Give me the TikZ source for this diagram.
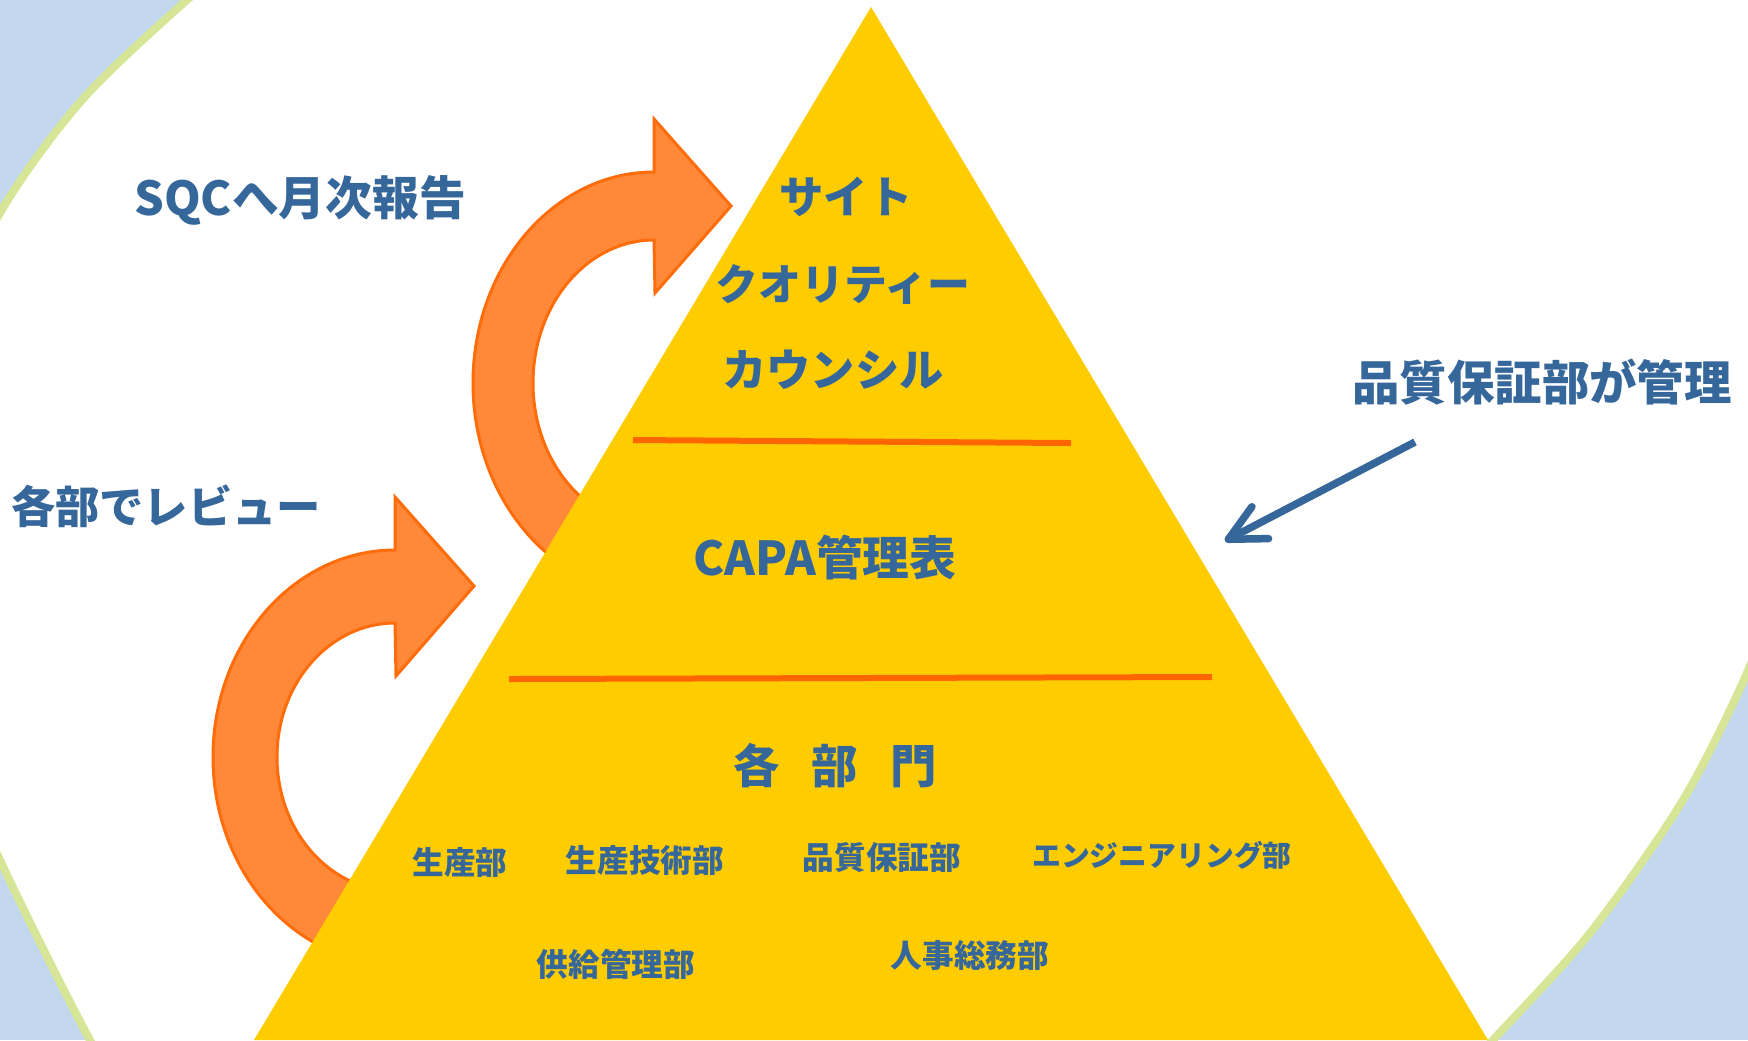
\documentclass[tikz,border=0pt]{standalone}
\usepackage{fontspec}
\newfontfamily\jp{Noto Sans CJK JP}
\usetikzlibrary{arrows.meta}
\definecolor{bgblue}{RGB}{195,215,238}
\definecolor{ring}{RGB}{214,230,150}
\definecolor{tri}{RGB}{255,204,0}
\definecolor{divline}{RGB}{255,102,0}
\definecolor{arrfill}{RGB}{255,137,56}
\definecolor{arrline}{RGB}{255,108,10}
\definecolor{txtblue}{RGB}{54,103,155}
\tikzset{
  lbl/.style={text=txtblue, inner sep=0pt, font=\jp\bfseries\fontsize{12.6}{15}\selectfont},
  dept/.style={text=txtblue, inner sep=0pt, font=\jp\bfseries\fontsize{9}{11}\selectfont},
  curvarrow/.style={fill=arrfill, draw=arrline, line width=0.3mm, line join=miter},
  divider/.style={draw=divline, line width=0.6mm},
  ringline/.style={draw=ring, line width=0.8mm},
  qaarrow/.style={draw=txtblue, line width=0.75mm, -{Straight Barb[length=3.6mm,width=3.6mm,round]}}
}
\begin{document}
\begin{tikzpicture}[x=0.1mm,y=-0.1mm]
\useasboundingbox (0,0) rectangle (1748,1040);
% background
\begin{scope}
  \clip (0,0) rectangle (1748,1040);
  \fill[bgblue] (0,0) rectangle (1748,1040);
  \fill[white] plot[smooth] coordinates {(241,-40) (187,0) (82,100) (0,213) (-61,350) (-88,536) (-62,710) (0,860) (90,1040) (120,1075)}
     -- plot[smooth] coordinates {(1460,1075) (1493,1040) (1590,933) (1683,800) (1747,673) (1785,570)}
     -- (1800,-40) -- cycle;
  \draw[ringline] plot[smooth] coordinates {(241,-40) (187,0) (82,100) (0,213) (-61,350) (-88,536) (-62,710) (0,860) (90,1040) (120,1075)};
  \draw[ringline] plot[smooth] coordinates {(1460,1075) (1493,1040) (1590,933) (1683,800) (1747,673) (1785,570)};
\end{scope}
% curved arrows
\path[curvarrow] (654,172) -- (654,119) -- (731,206) -- (655,293) -- (654,240)
   arc[start angle=-90, end angle=-270, x radius=121, y radius=143]
   -- ++(0,68)
   arc[start angle=-270, end angle=-90, x radius=181, y radius=211] -- cycle;
\path[curvarrow] (395,550) -- (395,497) -- (474,586) -- (396,676) -- (395,623)
   arc[start angle=-90, end angle=-270, x radius=118, y radius=134]
   -- ++(0,73)
   arc[start angle=-270, end angle=-90, x radius=182, y radius=207] -- cycle;
% pyramid
\fill[tri] (871,7) -- (1488,1040) -- (254,1040) -- cycle;
\draw[divider] (633,440) -- (1071,443);
\draw[divider] (509,679) -- (1212,677);
% texts
\node[lbl, font=\jp\bfseries\fontsize{13.3}{15}\selectfont] (sqc) at (300,200) {SQCへ月次報告};
\node[lbl] (review) at (166,506) {各部でレビュー};
\node[lbl, font=\jp\bfseries\fontsize{13.5}{15}\selectfont] (qalabel) at (1542,382) {品質保証部が管理};
\node[lbl] (site1) at (846,197) {サイト};
\node[lbl, font=\jp\bfseries\fontsize{12.2}{15}\selectfont] (site2) at (843,284) {クオリティー};
\node[lbl] (site3) at (833,370) {カウンシル};
\node[lbl, font=\jp\bfseries\fontsize{13.3}{15}\selectfont] (capa) at (825,558) {CAPA管理表};
\node[lbl, font=\jp\bfseries\fontsize{13.2}{15}\selectfont] (bumon) at (835,766) {各\hspace{3.2mm}部\hspace{3.2mm}門};
\node[dept] (d1) at (460,862) {生産部};
\node[dept] (d2) at (645,860) {生産技術部};
\node[dept] (d3) at (882,858) {品質保証部};
\node[dept, font=\jp\bfseries\fontsize{8.2}{10}\selectfont] (d4) at (1162,855) {エンジニアリング部};
\node[dept] (d5) at (616,964) {供給管理部};
\node[dept] (d6) at (970,955) {人事総務部};
% QA arrow
\coordinate (qafrom) at (1415,442);
\coordinate (qato) at (1225,541);
\draw[qaarrow] (qafrom) -- (qato);
\end{tikzpicture}
\end{document}
